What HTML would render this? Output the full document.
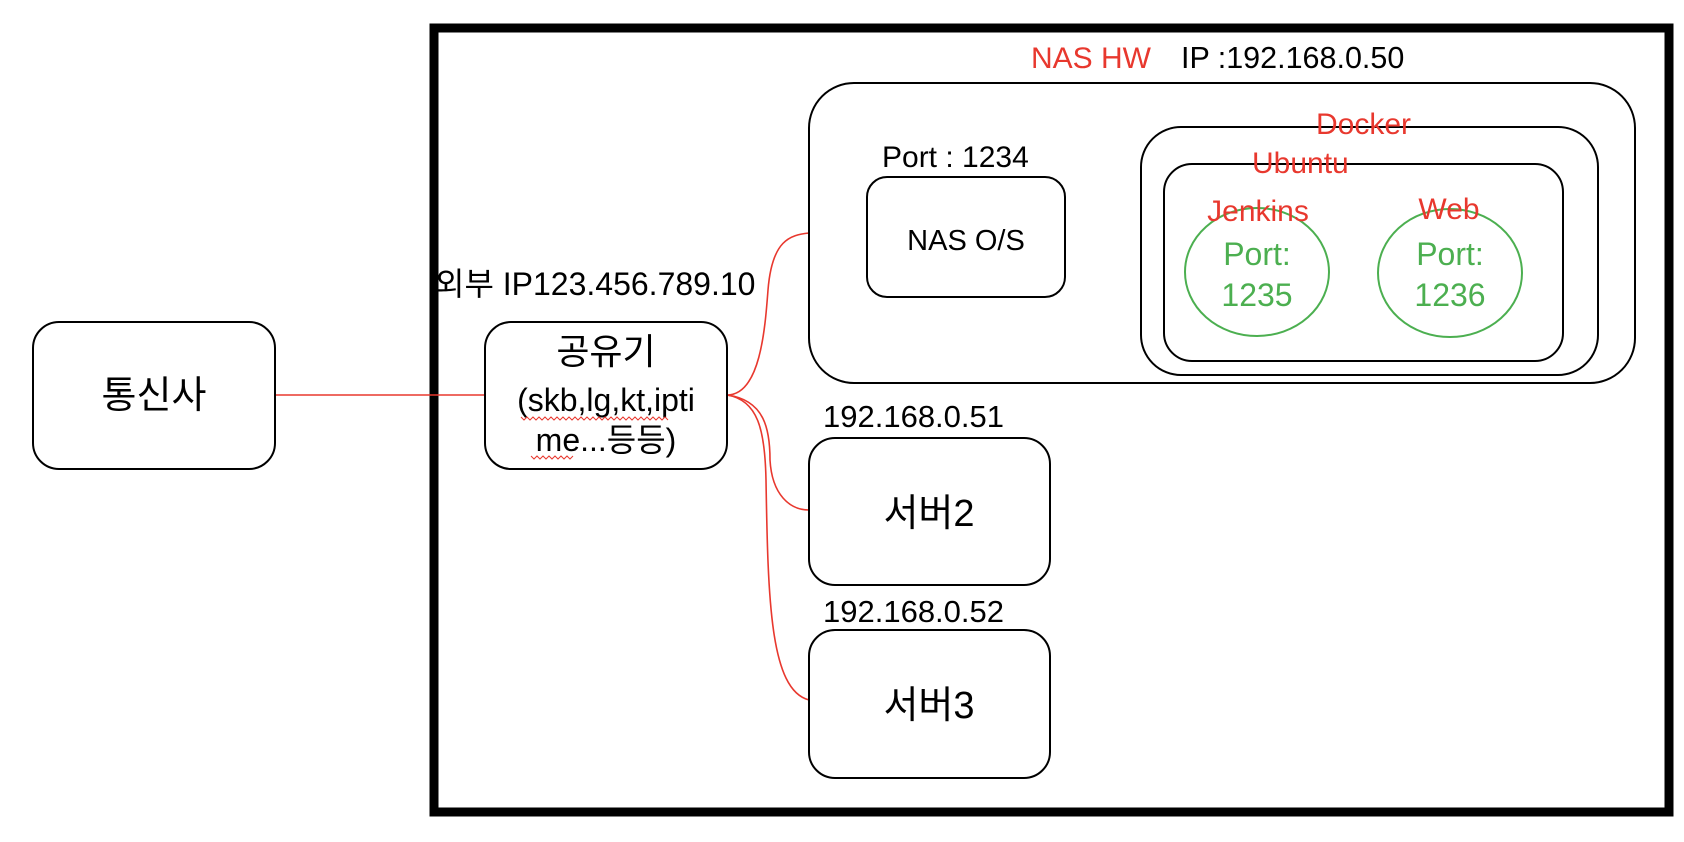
<!DOCTYPE html>
<html><head><meta charset="utf-8"><style>
html,body{margin:0;padding:0;background:#fff;}
svg{display:block;}
text{font-family:"Liberation Sans","Noto Sans CJK KR",sans-serif;}
</style></head><body>
<svg width="1684" height="842" viewBox="0 0 1684 842" xmlns="http://www.w3.org/2000/svg">
<rect x="434" y="28" width="1235" height="784" fill="none" stroke="#000" stroke-width="9"/>
<g fill="none" stroke="#e8382e" stroke-width="1.6">
<line x1="275" y1="395" x2="485" y2="395"/>
<path d="M727 395 C760 395 765 330 768 290 C772 240 790 235 809 233"/>
<path d="M727 395 C765 400 770 430 770 460 C772 495 790 510 809 510"/>
<path d="M727 395 C758 400 765 430 766 480 C768 600 770 690 809 700"/>
</g>
<g fill="none" stroke="#000" stroke-width="2">
<rect x="33" y="322" width="242" height="147" rx="26"/>
<rect x="485" y="322" width="242" height="147" rx="26"/>
<rect x="809" y="83" width="826" height="300" rx="45"/>
<rect x="867" y="177" width="198" height="120" rx="20"/>
<rect x="1141" y="127" width="457" height="248" rx="40"/>
<rect x="1164" y="164" width="399" height="197" rx="28"/>
<rect x="809" y="438" width="241" height="147" rx="26"/>
<rect x="809" y="630" width="241" height="148" rx="26"/>
</g>
<g fill="none" stroke="#4caf50" stroke-width="2">
<ellipse cx="1257" cy="272" rx="72" ry="64"/>
<ellipse cx="1450" cy="273" rx="72" ry="64"/>
</g>
<g font-size="30" fill="#000">
<text x="1181" y="68" font-size="30.5">IP :192.168.0.50</text>
<text x="882" y="167" font-size="30">Port : 1234</text>
<text x="966" y="250" font-size="29" text-anchor="middle">NAS O/S</text>
<text x="435" y="295" font-size="32">외부 IP123.456.789.10</text>
<text x="154" y="408" font-size="38" text-anchor="middle">통신사</text>
<text x="606" y="364" font-size="36" text-anchor="middle">공유기</text>
<text x="606" y="411" font-size="32" text-anchor="middle">(skb,lg,kt,ipti</text>
<text x="606" y="451" font-size="32" text-anchor="middle">me...등등)</text>
<text x="823" y="427" font-size="31">192.168.0.51</text>
<text x="823" y="622" font-size="31">192.168.0.52</text>
<text x="929" y="526" font-size="38" text-anchor="middle">서버2</text>
<text x="929" y="718" font-size="38" text-anchor="middle">서버3</text>
</g>
<g fill="#e8382e" font-size="30">
<text x="1031" y="68">NAS HW</text>
<text x="1316" y="134">Docker</text>
<text x="1252" y="173">Ubuntu</text>
<text x="1258" y="221" text-anchor="middle">Jenkins</text>
<text x="1449" y="219" text-anchor="middle">Web</text>
</g>
<g fill="none" stroke="#e8382e" stroke-width="1">
<path d="M521 417 l3 3 l3 -3 l3 3 l3 -3 l3 3 l3 -3 l3 3 l3 -3 l3 3 l3 -3 l3 3 l3 -3 l3 3 l3 -3 l3 3 l3 -3 l3 3 l3 -3 l3 3 l3 -3 l3 3 l3 -3 l3 3 l3 -3 l3 3 l3 -3 l3 3 l3 -3 l3 3 l3 -3 l3 3 l3 -3 l3 3 l3 -3 l3 3 l3 -3 l3 3 l3 -3 l3 3 l3 -3 l3 3 l3 -3 l3 3 l3 -3 l3 3 l3 -3 l3 3 l3 -3 l3 3"/>
<path d="M531 456 l3 3 l3 -3 l3 3 l3 -3 l3 3 l3 -3 l3 3 l3 -3 l3 3 l3 -3 l3 3 l3 -3 l3 3 l3 -3"/>
</g>
<g fill="#4caf50" font-size="32" text-anchor="middle">
<text x="1257" y="265">Port:</text>
<text x="1257" y="306">1235</text>
<text x="1450" y="265">Port:</text>
<text x="1450" y="306">1236</text>
</g>
</svg>
</body></html>
